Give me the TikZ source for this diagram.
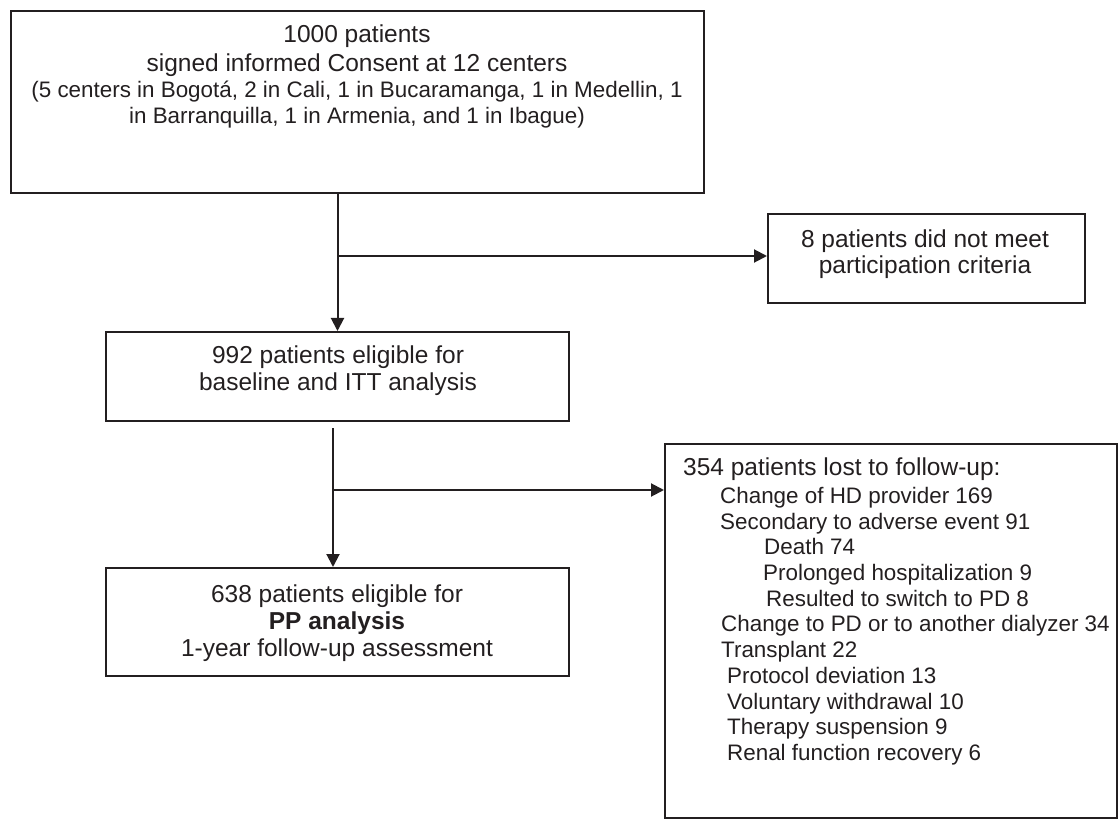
\documentclass[tikz,border=0pt]{standalone}
\usepackage{fontspec}
\setmainfont{Liberation Sans}
\usetikzlibrary{positioning, arrows.meta}
\definecolor{ink}{HTML}{231F20}

\tikzset{
  box/.style={draw=ink, line width=2pt, inner sep=0pt},
  bigtxt/.style={text=ink, align=center, inner sep=0pt, anchor=north},
  listtxt/.style={text=ink, align=left, inner sep=0pt, anchor=north west},
  arr/.style={draw=ink, line width=2pt, -{Triangle[length=13pt,width=13pt]}}
}

\begin{document}
\begin{tikzpicture}[x=1pt, y=-1pt]
        \useasboundingbox (0,0) rectangle (1120,821);
        % boxes
        \node[box, minimum width=693pt, minimum height=182pt] (consent) at (357.5,102) {};
        \node[box, minimum width=317pt, minimum height=89pt] (crit) at (926.5,258.5) {};
        \node[box, minimum width=463pt, minimum height=89pt] (itt) at (337.5,376.5) {};
        \node[box, minimum width=463pt, minimum height=108pt] (pp) at (337.5,622) {};
        \node[box, minimum width=452pt, minimum height=374pt] (lost) at (891,631) {};
        % texts
        \node[bigtxt, font=\fontsize{24.5}{29}\selectfont] (consenttop) at (357,24.5)
            {1000 patients\\signed informed Consent at 12 centers};
        \node[bigtxt, font=\fontsize{22.4}{26}\selectfont] (consentsub) at (357,81)
            {(5 centers in Bogotá, 2 in Cali, 1 in Bucaramanga, 1 in Medellin, 1\\in Barranquilla, 1 in Armenia, and 1 in Ibague)};
        \node[bigtxt, font=\fontsize{24.5}{26}\selectfont] (crittxt) at (925,229.5)
            {8 patients did not meet\\participation criteria};
        \node[bigtxt, font=\fontsize{24.5}{27}\selectfont] (itttxt) at (338,345.5)
            {992 patients eligible for\\baseline and ITT analysis};
        \node[bigtxt, font=\fontsize{24.5}{27}\selectfont] (pptxt) at (337,584.5)
            {638 patients eligible for\\\textbf{PP analysis}\\1-year follow-up assessment};
        \node[listtxt, font=\fontsize{24.5}{28}\selectfont] (losthead) at (683,457.5)
            {354 patients lost to follow-up:};
        \node[listtxt, font=\fontsize{22.4}{25.7}\selectfont] (lostlist) at (720,487)
            {Change of HD provider 169\\
             Secondary to adverse event 91\\
             \hspace*{44pt}Death 74\\
             \hspace*{43pt}Prolonged hospitalization 9\\
             \hspace*{46pt}Resulted to switch to PD 8\\
             \hspace*{1pt}Change to PD or to another dialyzer 34\\
             \hspace*{1pt}Transplant 22\\
             \hspace*{7pt}Protocol deviation 13\\
             \hspace*{7pt}Voluntary withdrawal 10\\
             \hspace*{7pt}Therapy suspension 9\\
             \hspace*{7pt}Renal function recovery 6};
        % connectors
        \coordinate (split1) at (339,256);
        \coordinate (split2) at (333,490);
        \draw[arr] (itt.north |- consent.south) -- (itt.north);
        \draw[arr] (split1) -- (split1 -| crit.west);
        \draw[arr, shorten <=6pt] (itt.south -| split2) -- (pp.north -| split2);
        \draw[arr] (split2) -- (split2 -| lost.west);
\end{tikzpicture}
\end{document}
